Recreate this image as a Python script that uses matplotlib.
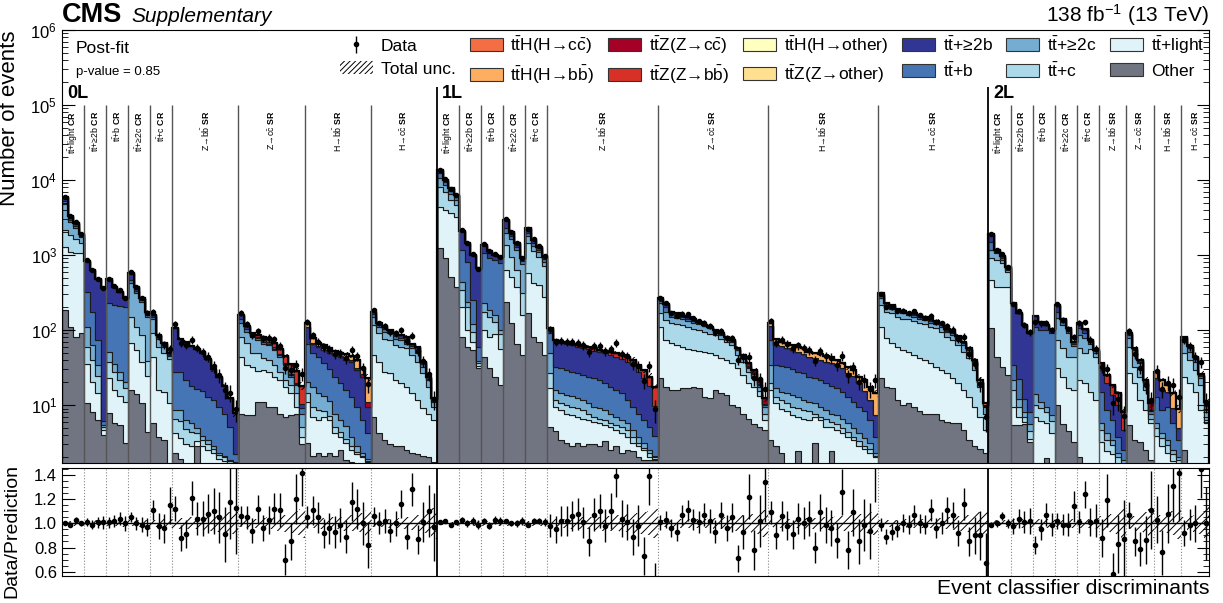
import numpy as np
import matplotlib
matplotlib.use('Agg')
import matplotlib.pyplot as plt
from matplotlib.patches import Patch
from matplotlib.ticker import FixedLocator, LogLocator, MultipleLocator, NullFormatter

plt.rcParams['font.family'] = ['Liberation Sans', 'DejaVu Sans']
plt.rcParams['mathtext.fontset'] = 'custom'
plt.rcParams['mathtext.rm'] = 'Liberation Sans'
plt.rcParams['mathtext.it'] = 'Liberation Sans:italic'
plt.rcParams['mathtext.bf'] = 'Liberation Sans:bold'
plt.rcParams['mathtext.fallback'] = 'stixsans'
plt.rcParams['hatch.linewidth'] = 0.7

TT = r't$\bar{\rm t}$'

# categories (same in every channel), bins per category
channels = ['0L', '1L', '2L']
cat_labels = [TT + r'+light $\bf{CR}$', TT + r'+≥2b $\bf{CR}$', TT + r'+b $\bf{CR}$',
              TT + r'+≥2c $\bf{CR}$', TT + r'+c $\bf{CR}$',
              r'Z→b$\bar{\rm b}$ $\bf{SR}$', r'Z→c$\bar{\rm c}$ $\bf{SR}$',
              r'H→b$\bar{\rm b}$ $\bf{SR}$', r'H→c$\bar{\rm c}$ $\bf{SR}$']
nbins_0l = [4, 4, 4, 4, 4, 12, 12, 12, 12]
nbins_1l = [4, 4, 4, 4, 4, 20, 20, 20, 20]
nbins_2l = [4, 4, 4, 4, 4, 5, 5, 5, 5]

# post-fit yields per bin (0L | 1L | 2L)
other = [
    185, 110, 80, 90, 10.6, 8.1, 6.3, 4.0, 7.8, 5.8, 5.4, 3.1, 16, 14, 10.6, 4.4, 5.8, 3.7, 3.4, 1.2,
    2.3, 1.9, 1.5, 1.5, 2.8, 1.5, 1.2, 1.0, 0.9, 0.8, 0.8, 0.8,
    7.7, 7.3, 7.3, 11.1, 11.1, 9.5, 9.5, 7.7, 7.0, 7.3, 7.7, 3.0,
    3.1, 2.1, 2.3, 2.1, 2.3, 2.1, 2.5, 1.85, 1.75, 1.6, 1.5, 1.5,
    7.0, 4.2, 3.4, 3.0, 2.8, 2.8, 2.5, 2.3, 2.2, 2.1, 2.0, 1.75,
    1230, 900, 510, 380, 81.5, 60, 54, 31, 44, 31, 24, 18.5, 239, 123, 66, 46, 167, 81.5, 70, 46,
    5.1, 4.5, 3.4, 3.1, 2.8, 3.1, 2.8, 3.0, 3.0, 2.8, 3.3, 2.5, 2.8, 2.3, 2.5, 2.4, 2.05, 1.85, 1.85, 1.85,
    22.7, 17.6, 15.8, 15.8, 16.7, 16.7, 17.6, 16.7, 12.9, 12.3, 15.8, 14.3, 13.6, 10, 9.5, 7.7, 6.6, 5.5, 5.1, 4.6,
    3.4, 2.8, 2.3, 1.6, 1.6, 2.4, 1.6, 1.6, 3.1, 1.6, 1.6, 2.4, 1.6, 1.6, 1.6, 1.5, 1.5, 1.5, 1.5, 1.5,
    22.7, 17.6, 16.7, 11.7, 10, 10.5, 9.5, 8.2, 7.7, 7.7, 7.7, 6.3, 6.0, 5.7, 5.7, 4.6, 3.4, 2.8, 2.6, 2.3,
    105, 44, 32.5, 25, 5.4, 5.4, 5.5, 3.2, 1.4, 1.4, 1.95, 1.4, 10, 5.6, 4.5, 3.2, 2, 1.5, 1.5, 1.5,
    1.0, 0.8, 0.8, 0.7, 0.7, 5.4, 3.4, 3.2, 2.5, 1.85, 1.7, 1.2, 1.1, 0.9, 0.8, 2.5, 1.5, 1.5, 1.5, 1.5,
]
tt_light = [
    1100, 1000, 980, 970, 25, 12, 8, 0.6, 15, 10, 8, 8, 51, 40, 27, 20, 38, 12, 11.6, 9.4,
    1.9, 1.7, 1.5, 1.3, 0.5, 1.3, 1.3, 1.3, 1.0, 1.0, 0.9, 0.8,
    36, 27, 25, 17, 18, 18, 14.4, 13.8, 10.6, 7, 1.8, 0.8,
    8, 4.9, 4, 4.9, 4, 2.1, 1.3, 1.25, 0.75, 0.6, 0.5, 0.25,
    39.4, 33.8, 24.4, 23.5, 18.7, 16.7, 15.1, 12, 9.5, 6.9, 5.7, 4.55,
    3180, 3080, 3080, 2870, 123, 40, 16, 2, 56, 50, 65, 38, 391, 391, 312, 112, 403, 338, 328, 232,
    11.6, 5, 5.2, 4.6, 4.5, 3.9, 3.8, 3.3, 3.0, 2.9, 2.1, 2.6, 1.9, 1.9, 1.3, 0.7, 0.75, 0.65, 0.2, 0.05,
    88, 56, 50.6, 47, 43.3, 40, 36.4, 36.3, 38.5, 36.6, 30.6, 27.7, 26.2, 26, 21.3, 17.4, 12.9, 12.1, 7.9, 1.7,
    12.4, 7.7, 6.6, 6.6, 5.8, 4.6, 5.0, 4.7, 3.9, 4.7, 3.5, 2.7, 3.0, 2.6, 2.2, 1.9, 1.3, 1.1, 0.8, 0.5,
    88.3, 59.8, 49.7, 48.3, 44, 40.9, 36.9, 33.7, 32.1, 28.3, 24.8, 23, 20.4, 17, 13.8, 11.2, 9.5, 6.7, 4.4, 2.3,
    359, 334, 345, 353, 4.1, 1.6, 0.5, 0.3, 5.6, 4.7, 3.75, 2.8, 20.8, 18.3, 12.2, 12.8, 19.5, 18, 13.6, 10.2,
    2.2, 1.6, 1.4, 0.9, 0.75, 21, 16.1, 8.5, 6.1, 3.85, 2.2, 1.6, 1.2, 0.9, 0.75, 21.4, 18, 13.6, 7.1, 4.2,
]
tt_c = [
    850, 740, 600, 400, 24, 20, 10, 0.5, 15, 12, 8, 6, 83, 56, 48, 14, 47, 44, 34, 31,
    2.4, 2.5, 1.8, 1.5, 0.9, 0.6, 0.5, 0.3, 0.25, 0.2, 0.1, 0.1,
    37, 32, 17, 21, 13, 12, 10, 6.3, 3.9, 4.2, 4.8, 1.3,
    3.2, 2.5, 2.3, 1.2, 0.8, 0.9, 0.5, 0.4, 0.3, 0.15, 0.1, 0.05,
    70.6, 52, 49, 47.5, 41.5, 40.5, 39.4, 32, 26.3, 17.5, 9.9, 3.2,
    3740, 3020, 1900, 1450, 136, 105, 25, 3, 75, 68, 40, 31, 730, 436, 252, 155, 900, 696, 532, 442,
    9.7, 2.2, 1.9, 2.3, 2.2, 2.1, 2.0, 1.4, 1.0, 0.9, 0.9, 0.6, 0.7, 0.9, 0.9, 0.7, 0.3, 0.2, 0.25, 0.1,
    56, 62, 59, 57, 57, 54, 48, 47, 43.6, 41, 39.6, 33, 30, 27, 15.6, 12.7, 8.3, 5.1, 2.5, 1.4,
    3.7, 2.4, 2.8, 2.3, 2.1, 2.1, 2.0, 1.9, 0.7, 0.7, 1.5, 0.9, 0.9, 0.7, 0.6, 0.4, 0.5, 0.2, 0.3, 0.1,
    104, 97.6, 100.6, 91, 88, 87.6, 86.6, 83.1, 80.2, 75, 72.5, 65.7, 55.1, 50.9, 43.5, 35.6, 29, 19.8, 10.6, 3.1,
    439, 480, 396, 222, 6.3, 2.5, 1, 1, 3, 2.9, 2.3, 2, 42.8, 33, 27.3, 28, 35.5, 29.4, 40.5, 32.3,
    1.5, 1.0, 0.7, 0.4, 0.2, 33.6, 13, 12.2, 7.2, 0.9, 1.0, 0.8, 0.6, 0.4, 0.3, 25, 20.3, 14.2, 9.9, 0.6,
]
tt_2c = [
    2650, 900, 650, 280, 50, 24, 10, 0.3, 13, 8, 6.5, 3.5, 270, 200, 150, 110, 50, 16, 11, 4,
    2.0, 2.5, 1.5, 1.4, 0.7, 0.5, 0.4, 0.2, 0.15, 0.1, 0.05, 0.05,
    42, 29, 32, 25, 24, 23, 20, 16, 12.5, 5.4, 4.2, 2.6,
    6.2, 8.1, 5.7, 5.2, 4.2, 2.6, 2.1, 1.7, 1.0, 0.5, 0.2, 0.1,
    33, 21, 18, 16, 14, 14, 9, 10.6, 11, 5.5, 3.9, 1.6,
    2350, 1500, 1100, 700, 100, 34, 25, 3, 52, 35, 29, 12, 585, 700, 550, 450, 300, 200, 160, 100,
    22.6, 4.1, 3.8, 3.6, 3.5, 3.2, 3.1, 2.8, 2.5, 2.5, 2.3, 2.0, 1.6, 1.2, 1.0, 0.9, 0.7, 0.4, 0.2, 0.1,
    60, 39, 26, 23, 22, 22, 23, 20, 18, 15, 8, 11, 7.4, 7, 7.6, 4.2, 3.2, 1.8, 2, 1.8,
    14.6, 3.8, 3.4, 3.8, 4.1, 3.8, 3.1, 2.9, 2.8, 2.5, 2.0, 1.7, 1.9, 1.7, 1.3, 1.1, 0.9, 0.8, 0.5, 0.2,
    49, 30, 22, 24, 25, 19, 18, 17, 16, 14, 15, 16, 13.5, 12.4, 10.6, 11.6, 9.5, 6.7, 1.9, 1.8,
    263, 194, 96, 29, 5.7, 2.5, 1, 1, 4, 2, 1.5, 1.2, 69.4, 60, 46, 18, 29, 28.5, 10, 5,
    1.0, 0.8, 0.5, 0.3, 0.2, 17.4, 16.4, 12.1, 3.7, 1.1, 0.8, 0.6, 0.5, 0.3, 0.2, 21.1, 11.6, 8.5, 4.2, 2.3,
]
tt_b = [
    400, 200, 150, 60, 215, 110, 40, 0.8, 179, 179, 180, 182, 50, 25, 14, 10, 7, 4, 3, 1.5,
    19, 19, 15, 12, 11.5, 11.5, 9.5, 9, 7, 5.6, 3.2, 0.5,
    17, 7.5, 2.5, 3.5, 4, 3.4, 2.7, 2, 1.3, 1, 0.5, 1.3,
    45.5, 31.4, 29.7, 23.1, 18.5, 16.2, 13.2, 10.7, 9.1, 6.7, 4.0, 2.35,
    12, 5.5, 7.5, 4.5, 6, 5.5, 7, 4.1, 5.1, 2.75, 1, 0.45,
    1770, 800, 650, 500, 729, 576, 130, 20, 823, 718, 700, 674, 325, 150, 100, 60, 200, 120, 90, 60,
    41, 16.7, 16.5, 15.7, 14.9, 14.1, 13.4, 13.4, 13.2, 12.4, 10.9, 9.9, 8.8, 8, 6, 4.8, 3.9, 3.2, 2.6, 1.75,
    20.5, 26.5, 13.5, 13.5, 8.5, 8.5, 7.5, 4.5, 2, 3, 3, 1.8, 1.8, 1.4, 0.8, 1.4, 1.4, 1.3, 0.8, 0.4,
    39.5, 17.4, 18, 17.5, 16.3, 15, 14.7, 12.8, 12.2, 12, 10.9, 10.2, 9.3, 8.5, 7.2, 6.2, 5.3, 4.6, 3.2, 1.5,
    24, 14, 14, 7, 7, 6, 8, 8, 6, 7, 7, 6, 3, 4.5, 4.6, 3.3, 2.6, 1.6, 0.6, 0.3,
    339, 54, 50, 30, 12.6, 10, 4, 2.5, 97, 89, 90.5, 82.6, 32, 10, 7, 4, 19, 12.6, 4, 3,
    9.4, 4.4, 2.9, 1.5, 0.65, 7.3, 4.8, 2, 0.3, 0.5, 7.2, 4.4, 6.1, 3.2, 1.35, 5.7, 5.5, 3.4, 1.6, 1.2,
]
tt_2b = [
    800, 360, 200, 100, 515, 456, 406, 354, 250, 165, 117, 67, 100, 40, 20, 17, 10, 6, 4, 2,
    79, 49, 48.5, 44, 39.5, 33.5, 28, 18, 14.5, 10, 7.4, 5.6,
    17, 8, 2, 3, 3.5, 3, 2.5, 2, 1.2, 0.9, 0.5, 1.2,
    45, 17, 16, 18, 20, 22.5, 24.5, 24.2, 25.1, 19.5, 17.6, 5.3,
    12, 5.5, 7.5, 4.5, 6, 5.5, 7, 4.1, 5.1, 2.75, 1, 0.45,
    1330, 700, 500, 400, 940, 645, 750, 605, 310, 237, 142, 156, 660, 250, 150, 80, 300, 150, 110, 70,
    13, 37.5, 36.2, 35.7, 35.1, 33.6, 32.9, 32.1, 30.3, 29.5, 29.5, 29.4, 28.2, 26.7, 26.3, 24.5, 20.3, 16.7, 12.9, 5.8,
    16, 20, 10, 10, 6, 6, 6, 4, 1.5, 2.4, 2.4, 1.4, 1.5, 1.2, 0.7, 1.0, 1.1, 1, 0.7, 0.4,
    41.4, 28.9, 27.9, 25.6, 24.1, 23.1, 21.6, 19.5, 19.2, 18.4, 18.5, 18.1, 17.1, 15.9, 13.9, 13.2, 10.4, 7.3, 5.3, 3.5,
    19, 11, 11, 6, 6, 5, 7, 7, 5, 6, 5, 5, 3, 3.5, 3.8, 2.7, 2, 1.2, 0.4, 0.2,
    400, 60, 60, 40, 193, 148, 105, 84, 43, 29, 17, 12, 40, 12, 8, 4, 18, 12, 4, 3,
    14.2, 10.9, 7.3, 6.2, 2.1, 5, 3, 1.3, 0.2, 0.3, 9.8, 7.2, 5.6, 3.3, 1.5, 4, 4, 2.5, 1.1, 0.8,
]
# signals, only visible in their own signal regions
ttz_bb = ([0] * 32 + [4, 4, 5, 6, 7, 8, 8, 8, 8, 9, 9, 8] + [0] * 24
          + [0] * 20 + [2, 3, 3, 3, 3, 3, 4, 4, 4, 4, 4, 4, 5, 5, 6, 6, 6, 6, 6, 8] + [0] * 60
          + [0] * 20 + [7.4, 5.6, 4.9, 4.3, 3.6] + [0] * 15)
ttz_cc = ([0] * 44 + [0.5, 0.5, 0.5, 0.5, 0.5, 0.6, 0.8, 1.0, 1.5, 2.0, 2.0, 1.5] + [0] * 12
          + [0] * 40 + [0.5, 0.5, 0.5, 0.5, 0.5, 0.5, 0.5, 0.5, 0.5, 0.6, 0.6, 0.8, 0.8, 1, 1.5, 2, 2.5, 2.5, 2.5, 2]
          + [0] * 40
          + [0] * 25 + [0.3, 0.3, 0.5, 1.5, 2.0] + [0] * 10)
tth_bb = ([0] * 44 + [12, 11, 6, 9, 8, 5, 5, 6.4, 6, 9, 5, 12] + [0] * 12
          + [0] * 60 + [8, 12, 9, 9, 9, 9, 9, 8, 7, 8, 7, 8, 6, 5, 5, 5, 4, 6, 6, 7] + [0] * 20
          + [0] * 30 + [5.1, 5.7, 3.4, 5.3, 4.1] + [0] * 5)
tth_cc = ([0] * 56 + [1, 1, 1, 1, 1, 1, 1, 0.8, 0.8, 0.5, 0.4, 0.3]
          + [0] * 80 + [1] * 19 + [0.5]
          + [0] * 35 + [0.3, 0.3, 0.3, 0.5, 0.5])
tth_other = [0] * 208
ttz_other = [0] * 208

# data / prediction
ratio = [
    1.00, 0.99, 1.03, 1.00, 1.01, 0.99, 1.01, 1.01, 1.01, 1.02, 1.04, 1.00, 1.05, 1.00, 0.99, 0.97, 1.11, 0.98, 0.96, 1.15,
    1.12, 0.88, 0.91, 1.21, 1.04, 1.04, 1.08, 1.10, 1.05, 0.91, 1.18, 1.13,
    1.06, 1.05, 0.94, 1.12, 0.96, 1.03, 1.12, 1.11, 0.70, 0.85, 1.20, 1.42,
    1.05, 1.11, 1.05, 0.92, 0.96, 0.93, 0.99, 0.89, 1.18, 1.12, 1.00, 0.82,
    1.06, 1.00, 1.02, 0.94, 1.00, 1.16, 0.89, 1.28, 0.87, 1.01, 1.10, 0.97,
    1.01, 1.02, 0.99, 1.01, 1.03, 1.00, 1.02, 0.99, 1.02, 0.98, 1.03, 1.02, 1.02, 1.00, 1.00, 1.02, 0.99, 1.02, 1.02, 1.01,
    0.98, 0.95, 1.02, 1.02, 1.06, 1.08, 1.01, 0.85, 1.07, 1.10, 0.98, 1.10, 1.39, 1.04, 1.01, 0.89, 0.98, 0.73, 1.39, 0.50,
    1.01, 1.03, 0.96, 0.93, 1.07, 1.11, 1.03, 1.01, 1.07, 1.02, 0.93, 1.07, 0.96, 1.05, 0.71, 0.93, 1.22, 0.78, 1.02, 1.34,
    1.09, 0.90, 1.06, 0.98, 0.91, 1.04, 1.00, 1.04, 0.80, 1.09, 0.99, 0.96, 0.86, 1.26, 0.78, 1.09, 0.85, 0.99, 0.94, 1.50,
    0.99, 0.89, 0.93, 0.96, 1.00, 0.99, 1.07, 1.00, 0.99, 1.11, 0.96, 1.00, 1.11, 1.07, 0.92, 1.16, 0.85, 0.90, 0.90, 0.67,
    0.99, 1.00, 1.06, 1.00, 0.98, 1.04, 1.01, 1.02, 0.82, 0.95, 1.07, 0.99, 1.02, 0.99, 0.99, 1.14, 1.01, 1.24, 1.01, 1.02,
    0.88, 1.19, 0.58, 0.83, 0.87, 1.07, 0.85, 0.79, 0.86, 1.11, 1.03, 0.76, 1.08, 1.31, 1.42, 0.92, 0.99, 1.00, 1.45, 1.00,
]
# relative total uncertainty (hatched band)
rel_unc = [
    0.02, 0.02, 0.02, 0.02, 0.025, 0.025, 0.025, 0.03, 0.025, 0.025, 0.03, 0.03, 0.025, 0.025, 0.03, 0.03, 0.03, 0.03, 0.035, 0.04,
    0.04, 0.045, 0.045, 0.05, 0.05, 0.055, 0.06, 0.065, 0.07, 0.08, 0.09, 0.11,
    0.03, 0.035, 0.04, 0.04, 0.045, 0.05, 0.055, 0.06, 0.07, 0.08, 0.1, 0.12,
    0.035, 0.04, 0.045, 0.045, 0.05, 0.05, 0.055, 0.06, 0.065, 0.075, 0.085, 0.11,
    0.03, 0.03, 0.035, 0.04, 0.04, 0.045, 0.05, 0.055, 0.065, 0.08, 0.1, 0.13,
    0.015, 0.015, 0.015, 0.018, 0.02, 0.02, 0.02, 0.022, 0.02, 0.02, 0.02, 0.022, 0.018, 0.018, 0.02, 0.022, 0.018, 0.02, 0.02, 0.022,
    0.03, 0.035, 0.04, 0.04, 0.045, 0.045, 0.05, 0.05, 0.055, 0.055, 0.06, 0.06, 0.065, 0.07, 0.075, 0.08, 0.085, 0.09, 0.1, 0.12,
    0.025, 0.03, 0.03, 0.032, 0.035, 0.035, 0.038, 0.04, 0.04, 0.042, 0.045, 0.048, 0.05, 0.055, 0.06, 0.065, 0.07, 0.08, 0.09, 0.11,
    0.03, 0.035, 0.035, 0.04, 0.04, 0.042, 0.045, 0.045, 0.048, 0.05, 0.052, 0.055, 0.058, 0.06, 0.065, 0.07, 0.075, 0.08, 0.09, 0.1,
    0.025, 0.028, 0.03, 0.03, 0.032, 0.035, 0.035, 0.038, 0.04, 0.042, 0.045, 0.048, 0.05, 0.055, 0.06, 0.065, 0.07, 0.08, 0.095, 0.12,
    0.025, 0.025, 0.025, 0.03, 0.035, 0.035, 0.035, 0.04, 0.035, 0.035, 0.035, 0.04, 0.03, 0.03, 0.035, 0.04, 0.035, 0.035, 0.04, 0.045,
    0.06, 0.07, 0.08, 0.09, 0.12, 0.05, 0.06, 0.07, 0.09, 0.12, 0.06, 0.07, 0.08, 0.1, 0.13, 0.05, 0.06, 0.07, 0.09, 0.14,
]

# stack order bottom -> top
stack = [
    (other, '#717581'), (tt_light, '#e0f3f8'), (tt_c, '#abd9e9'), (tt_2c, '#74add1'),
    (tt_b, '#4575b4'), (tt_2b, '#313695'), (ttz_other, '#fee090'), (tth_other, '#ffffbf'),
    (ttz_bb, '#d73027'), (ttz_cc, '#a50026'), (tth_bb, '#fdae61'), (tth_cc, '#f46d43'),
]

nb = len(other)
for arr, _ in stack:
    assert len(arr) == nb, len(arr)
assert len(ratio) == nb and len(rel_unc) == nb

edges = np.arange(nb + 1)
centers = edges[:-1] + 0.5
total = np.sum([np.array(a, float) for a, _ in stack], axis=0)
data = total * np.array(ratio)
unc = np.array(rel_unc)

fig = plt.figure(figsize=(12.23, 6.03), dpi=100)
ax = fig.add_axes([0.0507, 0.2322, 0.9379, 0.718])
rax = fig.add_axes([0.0507, 0.0448, 0.9379, 0.1796])

base = np.full(nb, 1e-2)
for arr, col in stack:
    top = base + np.array(arr, float)
    if np.any(np.array(arr) > 0):
        ax.stairs(top, edges, baseline=base, fill=True, facecolor=col,
                  edgecolor='#1a1a1a', linewidth=0.8)
    base = top
ax.stairs(total * (1 + unc), edges, baseline=total * (1 - unc), fill=True,
          facecolor='none', edgecolor='black', linewidth=0, hatch='////')
ax.stairs(total, edges, color='black', linewidth=1.6)
eb = ax.errorbar(centers, data, yerr=np.sqrt(data), fmt='o', ms=3, color='black',
                 elinewidth=1, capsize=0, label='Data')

ax.set_yscale('log')
ax.set_ylim(1.69, 1e6)
ax.set_xlim(0, nb)
ax.set_xticks([])
ax.yaxis.set_major_locator(FixedLocator([1e1, 1e2, 1e3, 1e4, 1e5, 1e6]))
ax.yaxis.set_minor_locator(LogLocator(base=10, subs=np.arange(2, 10), numticks=20))
ax.yaxis.set_minor_formatter(NullFormatter())
ax.tick_params(axis='y', which='both', direction='in', right=True, labelsize=12)
ax.tick_params(axis='y', which='major', length=9)
ax.tick_params(axis='y', which='minor', length=4.5)
ax.set_ylabel('Number of events', fontsize=16, loc='top')
ax.yaxis.set_label_coords(-0.037, 1.0)

# category separators, labels, channel boundaries
start = 0
for ch, nbs in zip(channels, [nbins_0l, nbins_1l, nbins_2l]):
    if start > 0:
        ax.vlines(start, 1.69, 1.75e5, color='black', linewidth=1.3)
        rax.axvline(start, color='black', linewidth=1.3)
    ax.text(start + 0.9, 1.42e5, ch, fontsize=13, fontweight='bold', va='center')
    pos = start
    for i, (lab, n) in enumerate(zip(cat_labels, nbs)):
        if i > 0:
            ax.vlines(pos, 1.69, 1.0e5, color='#555555', linewidth=1.0)
            rax.axvline(pos, color='#888888', linewidth=0.8, linestyle=':')
        ax.text(pos + n / 2, 8.4e4, lab, rotation=90, ha='center', va='top', fontsize=6.3)
        pos += n
    start = pos

ax.text(0.012, 0.975, 'Post-fit', transform=ax.transAxes, fontsize=12.5, va='top')
ax.text(0.012, 0.918, 'p-value = 0.85', transform=ax.transAxes, fontsize=9.5, va='top')

handles = [eb, Patch(facecolor='white', edgecolor='black', hatch='//////', linewidth=0)]
labels = ['Data', 'Total unc.']
leg_items = [
    ('#f46d43', TT + r'H(H→c$\bar{\rm c}$)'),
    ('#fdae61', TT + r'H(H→b$\bar{\rm b}$)'),
    ('#a50026', TT + r'Z(Z→c$\bar{\rm c}$)'),
    ('#d73027', TT + r'Z(Z→b$\bar{\rm b}$)'),
    ('#ffffbf', TT + 'H(H→other)'),
    ('#fee090', TT + 'Z(Z→other)'),
    ('#313695', TT + '+≥2b'),
    ('#4575b4', TT + '+b'),
    ('#74add1', TT + '+≥2c'),
    ('#abd9e9', TT + '+c'),
    ('#e0f3f8', TT + '+light'),
    ('#717581', 'Other'),
]
for col, lab in leg_items:
    handles.append(Patch(facecolor=col, edgecolor='#333333', linewidth=0.8))
    labels.append(lab)
ax.legend(handles, labels, ncol=7, loc='upper right', bbox_to_anchor=(1.0, 1.0),
          frameon=False, fontsize=12.5, handlelength=1.9, handleheight=0.75,
          columnspacing=0.8, handletextpad=0.45, labelspacing=0.45,
          borderaxespad=0.0, borderpad=0.25)

fig.text(62 / 1223, 1 - 22 / 603, 'CMS', fontsize=19.5, fontweight='bold', va='baseline')
fig.text(131 / 1223, 1 - 22 / 603, 'Supplementary', fontsize=15, style='italic', va='baseline')
fig.text(1209 / 1223, 1 - 22 / 603, r'138 fb$^{-1}$ (13 TeV)', fontsize=15, ha='right',
         va='baseline')

# ratio panel
rel_err = np.sqrt(data) / total
rax.stairs(1 + unc, edges, baseline=1 - unc, fill=True, facecolor='none',
           edgecolor='black', linewidth=0, hatch='////')
rax.axhline(1.0, color='black', linewidth=1)
rax.errorbar(centers, data / total, yerr=rel_err, fmt='o', ms=3, color='black',
             elinewidth=1, capsize=0)
rax.set_xlim(0, nb)
rax.set_ylim(0.565, 1.46)
rax.set_xticks([])
rax.yaxis.set_major_locator(FixedLocator([0.6, 0.8, 1.0, 1.2, 1.4]))
rax.yaxis.set_minor_locator(MultipleLocator(0.05))
rax.yaxis.set_major_formatter(plt.FuncFormatter(lambda v, p: f'{v:.1f}'))
rax.tick_params(axis='y', which='both', direction='in', right=True, labelsize=12)
rax.tick_params(axis='y', which='major', length=9)
rax.tick_params(axis='y', which='minor', length=4.5)
rax.set_ylabel('Data/Prediction', fontsize=14)
rax.yaxis.set_label_coords(-0.036, 0.42)
rax.set_xlabel('Event classifier discriminants', fontsize=15.3, loc='right', labelpad=2)

fig.savefig('out.png', dpi=100)
